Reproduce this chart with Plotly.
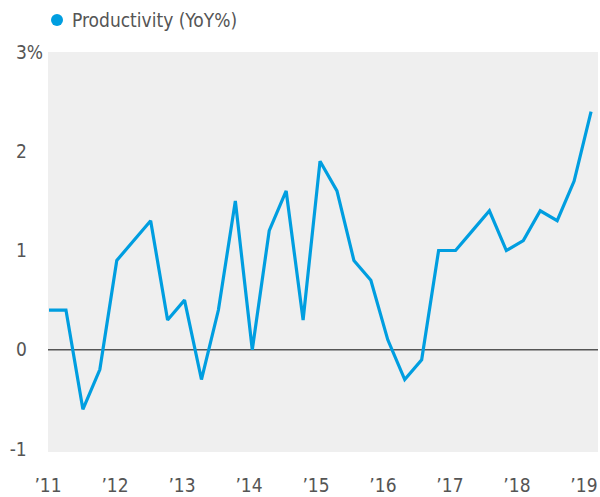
import plotly.graph_objects as go

quarters = [f"{y}Q{q}" for y in range(2011, 2020) for q in range(1, 5)][:33]
productivity = [0.4, 0.4, -0.6, -0.2, 0.9, 1.1, 1.3, 0.3,
                0.5, -0.3, 0.4, 1.5, 0.0, 1.2, 1.6, 0.3,
                1.9, 1.6, 0.9, 0.7, 0.1, -0.3, -0.1, 1.0,
                1.0, 1.2, 1.4, 1.0, 1.1, 1.4, 1.3, 1.7,
                2.4]
year_labels = ["’11", "’12", "’13", "’14", "’15", "’16", "’17", "’18", "’19"]
y_ticks = [-1, 0, 1, 2, 3]
y_labels = ["-1", "0", "1", "2", "3"]

W, H = 600, 497
L, R, T, B = 48, 2, 52, 45
pw, ph = W - L - R, H - T - B

FONT = "DejaVu Sans Condensed, Liberation Sans Narrow, Roboto, sans-serif"
BLUE = "#009ee0"
TXT = "#555555"

# year label positions (in quarter index units), slightly compressed as in the reference
year_pos = [k * 3.955 - 0.06 for k in range(len(year_labels))]

# every y label gets a (hidden) % so that digits line up, only the top one shows it
y_text = [lab + ("%" if lab == "3" else "<span style='color:rgba(0,0,0,0)'>%</span>")
          for lab in y_labels]

fig = go.Figure()
fig.add_trace(go.Scatter(
    x=list(range(len(productivity))), y=productivity, mode="lines",
    line=dict(color=BLUE, width=3.2), showlegend=False, hoverinfo="skip",
    customdata=quarters, cliponaxis=False))

fig.add_hline(y=0, line=dict(color=TXT, width=1.5), layer="below")

def px_x(p):
    return (p - L) / pw

def px_y(p):
    return (H - B - p) / ph

fig.add_shape(type="circle", xref="paper", yref="paper",
              x0=px_x(51), x1=px_x(63), y0=px_y(26), y1=px_y(14),
              fillcolor=BLUE, line=dict(width=0))
fig.add_annotation(xref="paper", yref="paper", x=px_x(70), y=px_y(20),
                   text="Productivity (YoY%)", showarrow=False,
                   xanchor="left", yanchor="middle",
                   font=dict(family=FONT, size=19, color=TXT))

fig.update_layout(
    width=W, height=H,
    margin=dict(l=L, r=R, t=T, b=B, autoexpand=False),
    paper_bgcolor="white", plot_bgcolor="#efefef",
    font=dict(family=FONT, size=16, color=TXT),
    showlegend=False,
)
fig.update_xaxes(range=[-0.06, 32.41], tickvals=year_pos,
                 ticktext=year_labels, showgrid=False, zeroline=False,
                 showline=False, ticks="", tickfont=dict(size=19),
                 ticklabelstandoff=20, automargin=False, ticklabeloverflow="allow")
fig.update_yaxes(range=[-1.03, 3.0], tickvals=y_ticks, ticktext=y_text,
                 showgrid=False, zeroline=False, showline=False, ticks="",
                 tickfont=dict(size=19), ticklabelstandoff=4, automargin=False,
                 ticklabeloverflow="allow")

fig.write_html("out.html", config={"displayModeBar": False},
               post_script="document.body.style.margin='0';document.body.style.overflow='hidden';")
